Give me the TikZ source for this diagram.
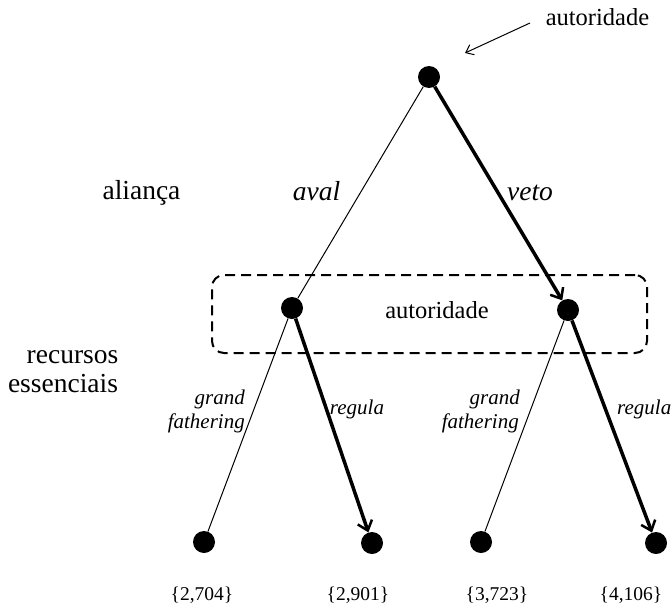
\documentclass[tikz,border=0pt]{standalone}
\usepackage{fontspec}
\setmainfont{Liberation Serif}
\usetikzlibrary{arrows.meta}
\begin{document}
\begin{tikzpicture}[x=1pt,y=-1pt,
  dot/.style={circle,fill=black,draw=none,inner sep=0pt,minimum size=22pt},
  thinedge/.style={line width=1pt},
  thickedge/.style={line width=3.5pt,-{Straight Barb[length=9pt,width=15pt,line width=2.5pt]}},
  big/.style={font=\fontsize{27.5}{30}\selectfont,anchor=base,inner sep=0pt},
  bigit/.style={font=\fontsize{27.5}{30}\selectfont\itshape,anchor=base,inner sep=0pt},
  mid/.style={font=\fontsize{24.5}{28}\selectfont,anchor=base,inner sep=0pt},
  lab/.style={font=\fontsize{21}{24}\selectfont\itshape,inner sep=0pt,anchor=base},
  leaflab/.style={font=\fontsize{19.5}{22}\selectfont,anchor=base,inner sep=0pt},
  grp/.style={draw,line width=2pt,dash pattern=on 10pt off 6pt,rounded corners=12pt,minimum width=435pt,minimum height=78pt,inner sep=0pt}]
\useasboundingbox (0,0) rectangle (672,605);
% group box
\node[grp] (box) at (429.5,314) {};
\node[mid] (boxlab) at (437,318) {autoridade};
% nodes
\node[dot] (root) at (429,77) {};
\node[dot] (ml) at (292,308) {};
\node[dot] (mr) at (568,310) {};
\node[dot] (l1) at (204,542) {};
\node[dot] (l2) at (372,543) {};
\node[dot] (l3) at (481,542) {};
\node[dot] (l4) at (656,543) {};
% edges
\draw[thinedge] (root) -- (ml);
\draw[thickedge] (root) -- (mr);
\draw[thinedge] (ml) -- (l1);
\draw[thickedge] (ml) -- (l2);
\draw[thinedge] (mr) -- (l3);
\draw[thickedge] (mr) -- (l4);
% top label and arrow
\node[mid] (toplab) at (597.5,25) {autoridade};
\coordinate (as) at (530,23);
\coordinate (ae) at (465,53);
\draw[line width=1pt,-{Straight Barb[length=7pt,width=11pt,line width=1pt]}] (as) -- (ae);
% side labels
\node[big] (alianca) at (141.5,199) {aliança};
\node[big] (rec) at (72.5,363) {recursos};
\node[big] (ess) at (63,392) {essenciais};
% edge labels
\node[bigit] (aval) at (316.5,200) {aval};
\node[bigit] (veto) at (530,200) {veto};
\node[lab,anchor=base east] (g1) at (245,404) {grand};
\node[lab,anchor=base east] (f1) at (245,428) {fathering};
\node[lab] (r1) at (357,414) {regula};
\node[lab,anchor=base east] (g2) at (520,404) {grand};
\node[lab,anchor=base east] (f2) at (519,428) {fathering};
\node[lab,anchor=base west] (r2) at (617,414) {regula};
% leaf labels
\node[leaflab] (v1) at (202,600) {\{2,704\}};
\node[leaflab] (v2) at (358,600) {\{2,901\}};
\node[leaflab] (v3) at (497,600) {\{3,723\}};
\node[leaflab] (v4) at (631,600) {\{4,106\}};
\end{tikzpicture}
\end{document}
